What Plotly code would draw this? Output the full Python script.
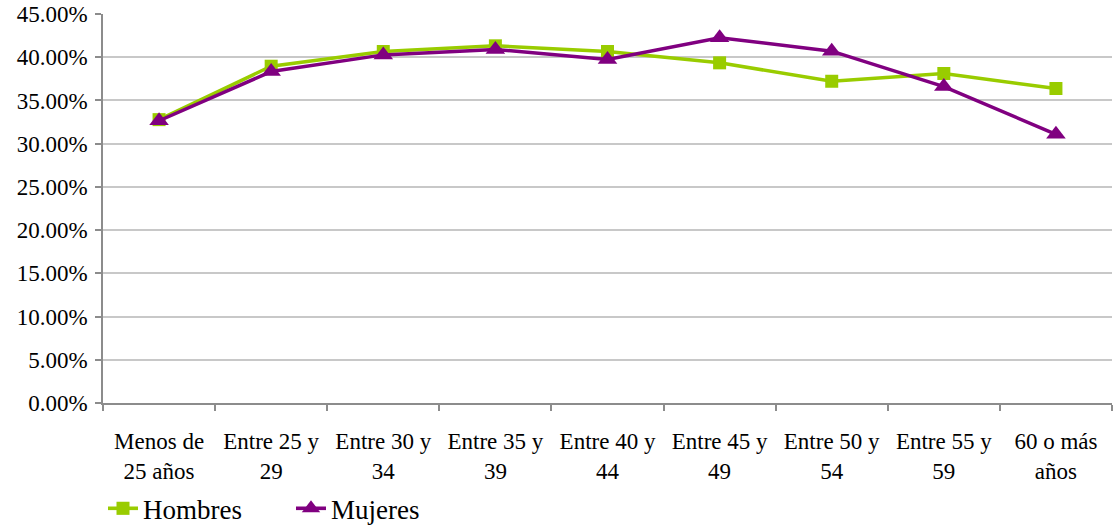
import plotly.graph_objects as go

categories = ["Menos de<br>25 años", "Entre 25 y<br>29", "Entre 30 y<br>34", "Entre 35 y<br>39",
              "Entre 40 y<br>44", "Entre 45 y<br>49", "Entre 50 y<br>54", "Entre 55 y<br>59",
              "60 o más<br>años"]
hombres = [0.3278, 0.3896, 0.4066, 0.4132, 0.4066, 0.3935, 0.3722, 0.3812, 0.3638]
mujeres = [0.3265, 0.3834, 0.4027, 0.4090, 0.3973, 0.4225, 0.4070, 0.3660, 0.3108]

font_family = "Liberation Serif"

fig = go.Figure()
fig.add_trace(go.Scatter(
    x=categories, y=hombres, name="Hombres", mode="lines+markers",
    line=dict(color="#99CC00", width=3.5),
    marker=dict(symbol="square", size=13, color="#99CC00"),
))
fig.add_trace(go.Scatter(
    x=categories, y=mujeres, name="Mujeres", mode="lines+markers",
    line=dict(color="#800080", width=3.5),
    marker=dict(symbol="triangle-up", size=17, color="#800080"),
))

fig.update_layout(
    width=1114, height=529,
    margin=dict(l=103, r=2, t=14, b=126, autoexpand=False),
    paper_bgcolor="white", plot_bgcolor="white",
    font=dict(family=font_family, size=23, color="black"),
    showlegend=True,
    legend=dict(orientation="h", x=0, xanchor="left", y=-0.272, yanchor="middle",
                font=dict(size=27, family=font_family),
                entrywidth=143, tracegroupgap=0, itemsizing="trace"),
)
fig.update_xaxes(
    type="category", range=[-0.5, 8.5], automargin=False,
    showline=True, linecolor="#8c8c8c", linewidth=1.5,
    ticks="outside", tickson="boundaries", ticklen=6, tickcolor="#8c8c8c", tickwidth=1.5,
    showgrid=False, tickfont=dict(size=23, family=font_family),
    ticklabelstandoff=17,
)
fig.update_yaxes(
    range=[0, 0.45], dtick=0.05, tickformat=".2%", automargin=False,
    showline=True, linecolor="#8c8c8c", linewidth=1.5,
    ticks="outside", ticklen=6, tickcolor="#8c8c8c", tickwidth=1.5,
    showgrid=True, gridcolor="#c8c8c8", gridwidth=1.5,
    zeroline=False, tickfont=dict(size=23, family=font_family),
    ticklabelstandoff=3,
)

fig.write_html(
    "out.html",
    config={"displayModeBar": False},
    post_script="document.body.style.margin='0';document.body.style.overflow='hidden';",
)
